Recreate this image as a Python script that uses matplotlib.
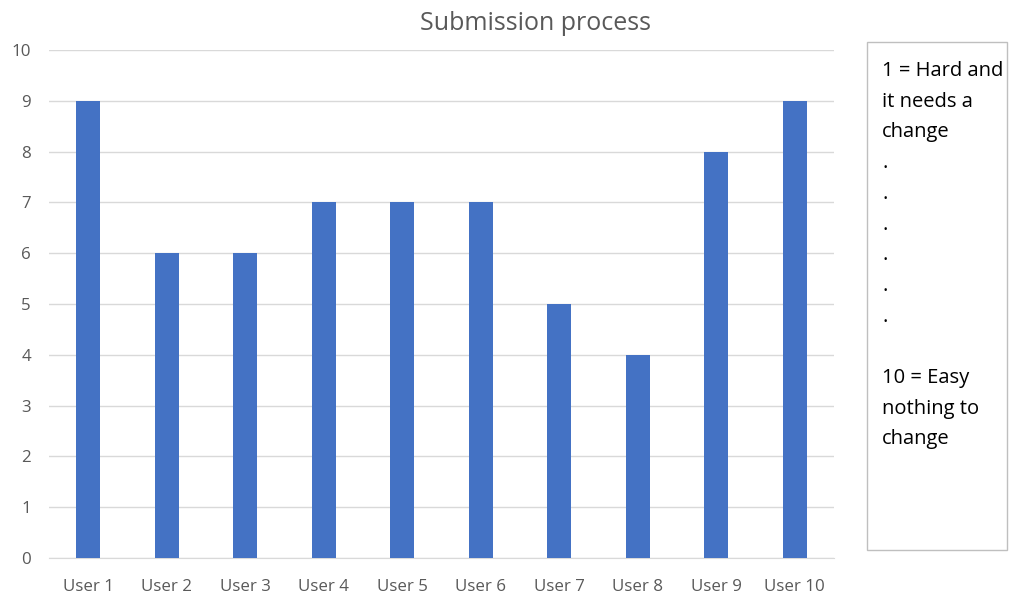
import matplotlib
matplotlib.use("Agg")
import matplotlib.pyplot as plt
from matplotlib.patches import Rectangle

# Survey scores per user
users = ["User 1", "User 2", "User 3", "User 4", "User 5",
         "User 6", "User 7", "User 8", "User 9", "User 10"]
scores = [9, 6, 6, 7, 7, 7, 5, 4, 8, 9]
y_ticks = list(range(0, 11))
title = "Submission process"
scale_note = ["1 = Hard and", "it needs a", "change", ".", ".", ".", ".", ".", ".", "",
              "10 = Easy", "nothing to", "change"]

plt.rcParams["font.family"] = ["Open Sans", "DejaVu Sans"]

W, H = 1013, 597
fig = plt.figure(figsize=(W / 100, H / 100), dpi=100)
ax = fig.add_axes([49 / W, 1 - 558 / H, (834 - 49) / W, (558 - 50) / H])

x = range(len(users))
ax.bar(x, scores, width=0.306, color="#4472C4", zorder=3)

ax.set_xlim(-0.5, len(users) - 0.5)
ax.set_ylim(0, 10)
ax.set_yticks(y_ticks)
ax.set_xticks(list(x))
ax.set_xticklabels(users)
ax.yaxis.grid(True, color="#D9D9D9", linewidth=1.0, zorder=0)
for s in ["top", "right", "left"]:
    ax.spines[s].set_visible(False)
ax.spines["bottom"].set_color("#D9D9D9")
ax.tick_params(axis="both", length=0, labelsize=12.2, colors="#595959")
ax.tick_params(axis="x", pad=15)
ax.tick_params(axis="y", pad=13)

fig.text(535 / W, 1 - 24 / H, title, ha="center", va="center",
         fontsize=18, color="#595959")

# Explanatory note box at the right
fig.patches.append(Rectangle((867 / W, 1 - 550 / H), 140 / W, 508 / H,
                             transform=fig.transFigure, fill=False,
                             edgecolor="#BFBFBF", linewidth=1.0))
for i, line in enumerate(scale_note):
    fig.text(882 / W, 1 - (71 + i * 30.7) / H, line, ha="left", va="center",
             fontsize=14.5, color="black")

fig.savefig("out.png", dpi=100)
